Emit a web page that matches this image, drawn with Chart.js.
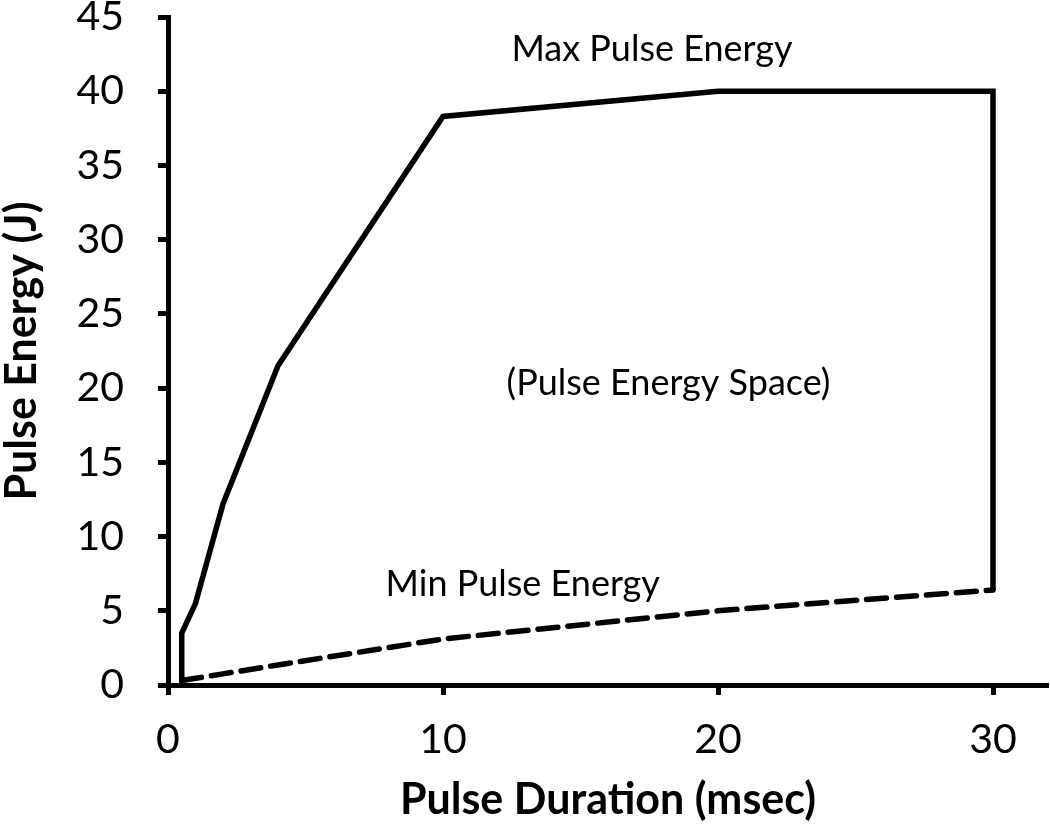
<!DOCTYPE html>
<html>
<head>
<meta charset="utf-8">
<script src="https://cdn.jsdelivr.net/npm/chart.js@4"></script>
<style>
    html, body { margin: 0; padding: 0; background: #fff; }
    #wrap { width: 1050px; height: 831px; }
</style>
</head>
<body>
<div id="wrap"><canvas id="chart"></canvas></div>
<script>
// max pulse energy boundary (solid)
const maxDuration = [0.5, 0.5, 1, 2, 4, 10, 20, 30, 30];
const maxEnergy = [0, 3.5, 5.5, 12.2, 21.5, 38.3, 40, 40, 6.4];
// min pulse energy boundary (dashed)
const minDuration = [0.5, 1, 2, 4, 10, 20, 30];
const minEnergy = [0.3, 0.45, 0.75, 1.35, 3.1, 5.0, 6.4];

// text notes placed in data space
const noteText = ['Max Pulse Energy', '(Pulse Energy Space)', 'Min Pulse Energy'];
const noteX = [17.6, 18.2, 12.9];
const noteY = [42.8, 20.3, 6.8];

const FONT = 'Lato, "Open Sans", sans-serif';

const toPoints = (xs, ys) => xs.map((x, i) => ({ x: x, y: ys[i] }));

const notesPlugin = {
    id: 'notes',
    afterDatasetsDraw(chart) {
        const ctx = chart.ctx;
        const sx = chart.scales.x, sy = chart.scales.y;
        ctx.save();
        ctx.fillStyle = '#000';
        ctx.font = '36px ' + FONT;
        ctx.textAlign = 'center';
        ctx.textBaseline = 'middle';
        noteText.forEach((t, i) => {
            ctx.fillText(t, sx.getPixelForValue(noteX[i]), sy.getPixelForValue(noteY[i]));
        });
        ctx.restore();
    }
};

new Chart(document.getElementById('chart'), {
    type: 'line',
    data: {
        datasets: [
            {
                label: 'Max Pulse Energy',
                data: toPoints(maxDuration, maxEnergy),
                borderColor: '#000',
                borderWidth: 5.5,
                pointRadius: 0,
                borderJoinStyle: 'miter',
                tension: 0
            },
            {
                label: 'Min Pulse Energy',
                data: toPoints(minDuration, minEnergy),
                borderColor: '#000',
                borderWidth: 5.5,
                borderDash: [20, 10],
                borderCapStyle: 'round',
                pointRadius: 0,
                tension: 0
            }
        ]
    },
    options: {
        responsive: true,
        maintainAspectRatio: false,
        animation: false,
        layout: { padding: { top: 17, right: 2, left: 0, bottom: 0 } },
        plugins: {
            legend: { display: false },
            tooltip: { enabled: false }
        },
        scales: {
            x: {
                type: 'linear',
                min: 0,
                max: 32,
                afterFit: (s) => { s.height = 146; s.paddingLeft = 0; s.paddingRight = 0; },
                border: { display: true, color: '#000', width: 5 },
                grid: { drawOnChartArea: false, drawTicks: true, tickLength: 10, tickWidth: 5, color: '#000' },
                ticks: {
                    stepSize: 10,
                    includeBounds: false,
                    color: '#000',
                    padding: 20,
                    font: { family: FONT, size: 41 }
                },
                title: {
                    display: true,
                    text: 'Pulse Duration (msec)',
                    color: '#000',
                    padding: { top: 0, bottom: 9 },
                    font: { family: FONT, size: 43, weight: 'bold', lineHeight: 1 }
                }
            },
            y: {
                min: 0,
                max: 45,
                afterFit: (s) => { s.width = 168; s.paddingTop = 0; s.paddingBottom = 0; },
                border: { display: true, color: '#000', width: 5 },
                grid: { drawOnChartArea: false, drawTicks: true, tickLength: 10, tickWidth: 5, color: '#000' },
                ticks: {
                    stepSize: 5,
                    color: '#000',
                    padding: 34,
                    font: { family: FONT, size: 41 }
                },
                title: {
                    display: true,
                    text: 'Pulse Energy (J)',
                    color: '#000',
                    padding: { top: 1, bottom: 0 },
                    font: { family: FONT, size: 43, weight: 'bold', lineHeight: 1 }
                }
            }
        }
    },
    plugins: [notesPlugin]
});
</script>
</body>
</html>
